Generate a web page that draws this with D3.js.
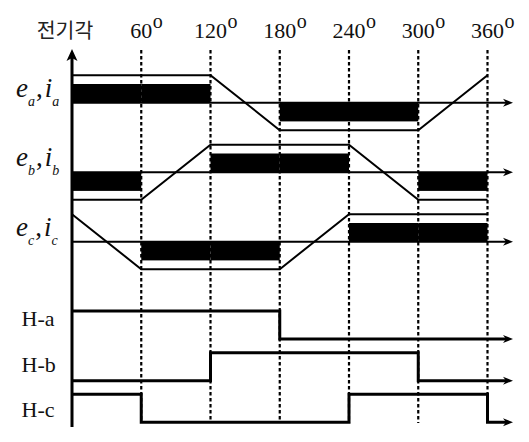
<!DOCTYPE html>
<html><head><meta charset="utf-8">
<script src="https://cdn.jsdelivr.net/npm/d3@7"></script>
<style>html,body{margin:0;padding:0;background:#fff;}svg{display:block;}</style>
</head><body>
<svg id="chart" width="529" height="442"></svg>
<script>
// ---- data ----
const angleTicks = [60, 120, 180, 240, 300, 360];
const angleLabelTitle = "전기각";
const emfAngles = [0, 60, 120, 180, 240, 300, 360];
const phases = ["a", "b", "c"];
const emfA = [1, 1, 1, -1, -1, -1, 1];
const emfB = [-1, -1, 1, 1, 1, -1, -1];
const emfC = [1, -1, -1, -1, 1, 1, 1];
// current per 60° sector
const curA = [1, 1, 0, -1, -1, 0];
const curB = [-1, 0, 1, 1, 0, -1];
const curC = [0, -1, -1, 0, 1, 1];
// hall signals per 60° sector, plus level after 360°
const hallNames = ["H-a", "H-b", "H-c"];
const hallA = [1, 1, 1, 0, 0, 0];
const hallB = [0, 0, 1, 1, 1, 0];
const hallC = [1, 0, 0, 0, 1, 1];
const hallTail = [0, 0, 0];

const emf = [emfA, emfB, emfC];
const cur = [curA, curB, curC];
const hall = [hallA, hallB, hallC];

// ---- layout ----
const svg = d3.select("#chart");
const x = d3.scaleLinear().domain([0, 360]).range([72, 487.5]);
const xArrow = 513;
const rowY = d3.scalePoint().domain(phases).range([102.7, 241.7]);
const hallY = d3.scalePoint().domain(hallNames).range([339, 422.3]);
const hallLabelY = d3.scalePoint().domain(hallNames).range([326, 417.3]);
const eAmp = 27.5, iAmp = 18.7, hAmp = 28;
const serif = "'Liberation Serif','Times New Roman',serif";

function arrowRight(g, y) {
  g.append("path")
    .attr("d", `M${xArrow},${y} L${xArrow - 10},${y - 4} L${xArrow - 7},${y} L${xArrow - 10},${y + 4} Z`)
    .attr("fill", "#000");
}

// dashed guides
svg.append("g").selectAll("line").data(angleTicks).join("line")
  .attr("x1", d => x(d)).attr("x2", d => x(d))
  .attr("y1", 50).attr("y2", 423)
  .attr("stroke", "#000").attr("stroke-width", 2.2)
  .attr("stroke-dasharray", "3.5,2.5");

// header labels
const hdr = svg.append("g");
hdr.append("text").attr("x", 65).attr("y", 37.5)
  .attr("text-anchor", "middle")
  .attr("font-family", "'Noto Sans CJK KR','Noto Sans',sans-serif")
  .attr("font-size", 20.5).attr("fill", "#222")
  .text(angleLabelTitle);
angleTicks.forEach(a => {
  const t = hdr.append("text").attr("x", x(a)).attr("y", 38.3)
    .attr("text-anchor", "middle").attr("font-family", serif)
    .attr("font-size", 22).attr("fill", "#111").text(a);
  const w = t.node().getComputedTextLength();
  hdr.append("text").attr("x", x(a) + w / 2 + 0.5).attr("y", 28)
    .attr("font-family", serif).attr("font-size", 20).attr("fill", "#111").text("o");
});

// vertical axis
svg.append("line").attr("x1", x(0)).attr("x2", x(0)).attr("y1", 56).attr("y2", 427)
  .attr("stroke", "#000").attr("stroke-width", 3);
svg.append("path")
  .attr("d", `M${x(0)},49 L${x(0) - 5.5},61 L${x(0)},58 L${x(0) + 5.5},61 Z`)
  .attr("fill", "#000");

// EMF / current rows
const eLine = d3.line();
phases.forEach((p, k) => {
  const yc = rowY(p);
  const g = svg.append("g");
  const ye = d3.scaleLinear().domain([-1, 1]).range([yc + eAmp, yc - eAmp]);
  const yi = d3.scaleLinear().domain([-1, 1]).range([yc + iAmp, yc - iAmp]);
  // current bars
  g.selectAll("rect").data(cur[k].map((v, i) => ({ v, i })).filter(d => d.v !== 0)).join("rect")
    .attr("x", d => x(d.i * 60)).attr("width", d => x((d.i + 1) * 60) - x(d.i * 60))
    .attr("y", d => Math.min(yc, yi(d.v))).attr("height", d => Math.abs(yi(d.v) - yc))
    .attr("fill", "#000");
  // axis
  g.append("line").attr("x1", x(0)).attr("x2", xArrow - 6).attr("y1", yc).attr("y2", yc)
    .attr("stroke", "#000").attr("stroke-width", 2);
  arrowRight(g, yc);
  // emf
  g.append("path")
    .attr("d", eLine(emfAngles.map((a, i) => [x(a), ye(emf[k][i])])))
    .attr("fill", "none").attr("stroke", "#000").attr("stroke-width", 2);
  // label
  const t = g.append("text").attr("x", 16).attr("y", yc - 6)
    .attr("font-family", serif).attr("font-size", 27).attr("font-style", "italic").attr("fill", "#111");
  t.append("tspan").text("e");
  t.append("tspan").attr("font-size", 14).attr("dy", 9).text(p);
  t.append("tspan").attr("font-style", "normal").attr("dy", -9).attr("dx", 1).text(",");
  t.append("tspan").attr("dx", 2).text("i");
  t.append("tspan").attr("font-size", 14).attr("dy", 9).text(p);
});

// Hall signals
hallNames.forEach((h, k) => {
  const low = hallY(h);
  const yh = v => low - v * hAmp;
  const pts = [];
  hall[k].forEach((v, i) => { pts.push([x(i * 60), yh(v)]); pts.push([x((i + 1) * 60), yh(v)]); });
  pts.push([x(360), yh(hallTail[k])]);
  pts.push([xArrow - 6, yh(hallTail[k])]);
  const g = svg.append("g");
  g.append("path").attr("d", d3.line()(pts))
    .attr("fill", "none").attr("stroke", "#000").attr("stroke-width", 3);
  arrowRight(g, yh(hallTail[k]));
  g.append("text").attr("x", 21.5).attr("y", hallLabelY(h))
    .attr("font-family", serif).attr("font-size", 22).attr("fill", "#111").text(h);
});
</script>
</body></html>
